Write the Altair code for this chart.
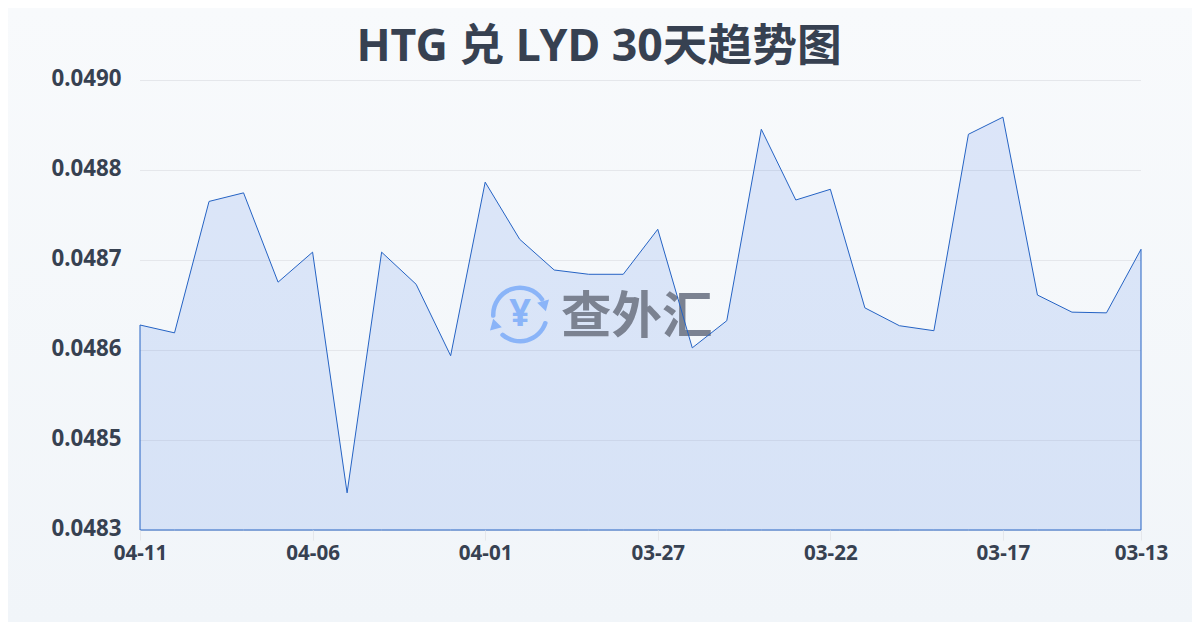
import altair as alt
import pandas as pd

dates = ["04-11","04-10","04-09","04-08","04-07","04-06","04-05","04-04","04-03","04-02",
         "04-01","03-31","03-30","03-29","03-28","03-27","03-26","03-25","03-24","03-23",
         "03-22","03-21","03-20","03-19","03-18","03-17","03-16","03-15","03-14","03-13"]
rates = [0.048627,0.048616,0.048800,0.048812,0.048687,0.048729,0.048392,0.048729,0.048684,0.048584,
         0.048827,0.048747,0.048704,0.048698,0.048698,0.048761,0.048595,0.048633,0.048901,0.048802,
         0.048817,0.048651,0.048626,0.048619,0.048894,0.048918,0.048669,0.048645,0.048644,0.048733]
x_ticks = ["04-11","04-06","04-01","03-27","03-22","03-17","03-13"]
y_ticks = [0.04834,0.048466,0.048592,0.048718,0.048844,0.04897]
title_text = "HTG 兑 LYD 30天趋势图"
wm_text = "查外汇"

LATIN = "'Noto Sans','Noto Sans CJK SC',sans-serif"
TEXT = "#374151"
LINE = "#2563c4"
FILL = "#2563eb"
LOGO = "#8ab4f8"
PL, PT = 132, 72
W, H = 1001, 450
CW, CH = 1184, 614

df = pd.DataFrame({"date": dates, "rate": rates})
grid_df = pd.DataFrame({"rate": y_ticks})
one = pd.DataFrame({"a": [0]})

bg = alt.Chart(one).mark_rect(
    color=alt.Gradient(gradient="linear", x1=0, y1=0, x2=0, y2=1,
                       stops=[alt.GradientStop(color="#f8fafc", offset=0),
                              alt.GradientStop(color="#f1f5f9", offset=1)])
).encode(x=alt.value(-PL), x2=alt.value(CW - PL), y=alt.value(-PT), y2=alt.value(CH - PT))

title = alt.Chart(one).mark_text(text=title_text, font=LATIN, fontSize=44.7, fontWeight="bold", color=TEXT,
                                 align="center", baseline="middle").encode(
    x=alt.value(599 - 140), y=alt.value(47.5 - 80))

CX, CY = 520 - 140, 314.5 - 80

def arc(t0, t1):
    return alt.Chart(one).mark_arc(color=LOGO, radius=29, radius2=24.5, cornerRadius=2).encode(
        x=alt.value(CX), y=alt.value(CY), theta=alt.value(t0), theta2=alt.value(t1))

def head(dx, dy, ang):
    return alt.Chart(one).mark_point(shape="triangle", filled=True, opacity=1, color=LOGO, size=150, angle=ang).encode(
        x=alt.value(CX + dx), y=alt.value(CY + dy))

yen = alt.Chart(one).mark_text(text="¥", font=LATIN, fontWeight="bold", fontSize=38, color=LOGO,
                               align="center", baseline="middle").encode(x=alt.value(CX), y=alt.value(CY))
wm = alt.Chart(one).mark_text(text=wm_text, font="'Noto Sans CJK SC'", fontWeight="bold", fontSize=50.5,
                              color="#7b8291", align="left", baseline="middle").encode(
    x=alt.value(561 - 140), y=alt.value(318 - 80))

x_enc = alt.X("date:O", sort=dates,
              scale=alt.Scale(type="point", padding=0, domain=dates),
              axis=alt.Axis(values=x_ticks, title=None, labelAngle=0, domain=False, grid=False, zindex=1,
                            tickColor="#e5e7eb", tickSize=10, labelFontSize=20.6, labelFont=LATIN,
                            labelFontWeight="bold", labelColor=TEXT, labelPadding=3))
y_scale = alt.Scale(domain=[y_ticks[0], y_ticks[-1]], zero=False, nice=False, clamp=True)
y_enc = alt.Y("rate:Q", scale=y_scale,
              axis=alt.Axis(values=y_ticks, format=".4f", title=None, domain=False, ticks=False,
                            grid=False, zindex=1, labelOffset=-2,
                            labelFontSize=22.3, labelFont=LATIN, labelFontWeight="bold",
                            labelColor=TEXT, labelPadding=19))

grid = alt.Chart(grid_df).mark_rule(color="#e5e7eb", strokeWidth=1, yOffset=0.5).encode(y=y_enc)

area_fill = alt.Chart(df).mark_area(color=FILL, fillOpacity=0.13, opacity=1).encode(x=x_enc, y=y_enc)
area_line = alt.Chart(df).mark_area(fill="transparent", stroke=LINE, strokeWidth=1, strokeOpacity=1, opacity=1).encode(
    x=x_enc, y=y_enc)

chart = alt.layer(
    bg, grid, area_fill, arc(4.59, 7.33), arc(1.82, 3.93), head(24, -10, 165), head(-25, 11, 345),
    yen, wm, area_line, title
).properties(
    width=W, height=H,
    background="#f8fafc",
    autosize=alt.AutoSizeParams(type="none"),
    padding={"left": PL, "top": PT, "right": CW - PL - W, "bottom": CH - PT - H},
).configure_view(stroke=None)

chart.save("out.html", embed_options={"renderer": "svg", "actions": False})
